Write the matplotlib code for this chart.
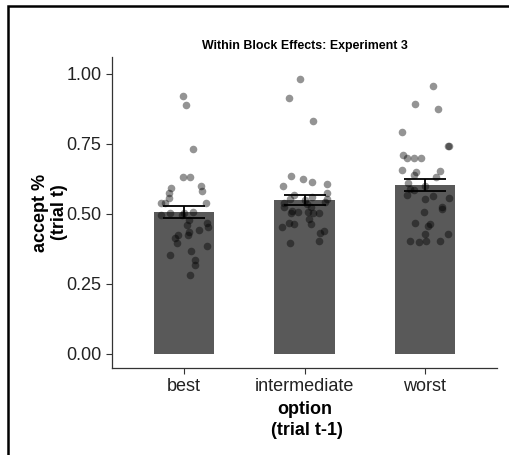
import matplotlib.pyplot as plt
from matplotlib.patches import Rectangle

plt.rcParams['font.family'] = ['Liberation Sans', 'DejaVu Sans']

options = ['best', 'intermediate', 'worst']
means = [0.508, 0.550, 0.603]
ses = [0.021, 0.019, 0.022]

# per-subject points (jittered x, accept rate)
best_x = [0.986, 1.017, 1.07, 0.99, 1.05, 0.89, 1.14, 0.87, 1.15, 0.87, 0.81, 0.84,
          1.18, 0.88, 0.81, 0.98, 1.07, 1.0, 1.04, 1.19, 1.02, 1.20, 1.12, 1.04,
          0.95, 0.92, 1.03, 0.94, 1.19, 0.88, 1.06, 1.09, 1.09, 1.05]
best_y = [0.922, 0.887, 0.731, 0.630, 0.632, 0.592, 0.598, 0.576, 0.581, 0.556, 0.540, 0.540,
          0.540, 0.505, 0.496, 0.496, 0.508, 0.502, 0.479, 0.469, 0.462, 0.455, 0.443, 0.436,
          0.423, 0.413, 0.424, 0.396, 0.385, 0.354, 0.366, 0.336, 0.317, 0.281]
inter_x = [1.96, 1.875, 2.067, 1.89, 1.99, 2.06, 1.82, 2.19, 2.19, 1.91, 2.06, 1.88,
           2.19, 1.83, 2.17, 1.83, 2.02, 2.05, 1.90, 1.95, 1.89, 2.03, 2.07, 2.12,
           2.04, 1.87, 1.91, 2.05, 1.81, 2.16, 2.13, 2.12, 1.88, 2.0]
inter_y = [0.982, 0.913, 0.831, 0.637, 0.624, 0.613, 0.598, 0.607, 0.574, 0.568, 0.562, 0.552,
           0.552, 0.538, 0.542, 0.523, 0.536, 0.526, 0.511, 0.508, 0.502, 0.508, 0.505, 0.502,
           0.481, 0.469, 0.463, 0.464, 0.452, 0.440, 0.433, 0.404, 0.395, 0.55]
worst_x = [3.07, 2.92, 3.11, 2.81, 3.19, 3.20, 2.82, 2.85, 2.91, 2.97, 2.81, 2.925,
           2.91, 3.13, 3.09, 2.86, 3.0, 2.91, 2.875, 2.85, 3.07, 3.20, 3.0, 3.14,
           3.14, 2.99, 2.92, 3.04, 3.03, 3.0, 3.19, 2.88, 2.95, 3.01, 3.125]
worst_y = [0.958, 0.892, 0.876, 0.793, 0.744, 0.742, 0.710, 0.700, 0.698, 0.698, 0.657, 0.650,
           0.638, 0.654, 0.633, 0.612, 0.600, 0.586, 0.588, 0.568, 0.564, 0.558, 0.554, 0.526,
           0.518, 0.507, 0.468, 0.463, 0.458, 0.429, 0.430, 0.404, 0.401, 0.404, 0.404]

fig = plt.figure(figsize=(5.09, 4.55), dpi=100)
ax = fig.add_axes([112/509, 1 - 368/455, 385/509, 311/455])

pos = [1, 2, 3]
ax.bar(pos, means, width=0.5, color='#595959', zorder=1)
for xs, ys in [(best_x, best_y), (inter_x, inter_y), (worst_x, worst_y)]:
    ax.scatter(xs, ys, s=30, color='black', alpha=0.42, linewidths=0, zorder=2)
ax.errorbar(pos, means, yerr=ses, fmt='none', ecolor='black', elinewidth=1.3,
            capsize=15, capthick=1.3, zorder=3)

ax.set_xlim(0.4, 3.6)
ax.set_ylim(-0.05, 1.06)
ax.set_xticks(pos)
ax.set_xticklabels(options)
ax.set_yticks([0, 0.25, 0.5, 0.75, 1.0])
ax.set_yticklabels(['0.00', '0.25', '0.50', '0.75', '1.00'])
ax.tick_params(labelsize=13, length=4, width=0.8, colors='#333333', labelcolor='#222222')
for s in ['top', 'right']:
    ax.spines[s].set_visible(False)
for s in ['left', 'bottom']:
    ax.spines[s].set_color('#333333')
    ax.spines[s].set_linewidth(0.9)

ax.set_xlabel('option\n (trial t-1)', fontsize=13, fontweight='bold', labelpad=4,
              linespacing=1.3)
ax.set_ylabel('accept %\n(trial t)', fontsize=13, fontweight='bold', labelpad=-1.5)
ax.set_title('Within Block Effects: Experiment 3', fontsize=8.9, fontweight='bold', pad=6)

# outer frame line (top and left edges)
fig.add_artist(Rectangle((8/509, -0.1), 1.2, 1.1 - 6/455, transform=fig.transFigure,
                         fill=False, edgecolor='black', linewidth=1.8))

fig.savefig('out.png', dpi=100)
